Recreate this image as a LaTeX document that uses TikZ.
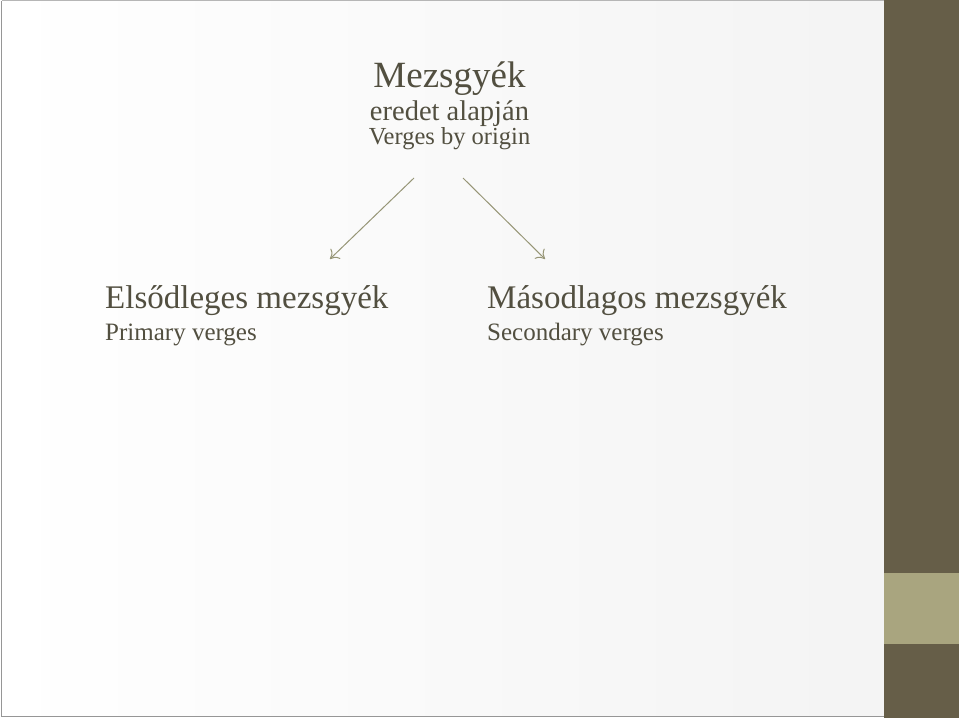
\documentclass[tikz,border=0pt]{standalone}
\usepackage{fontspec}
\setmainfont{Liberation Serif}
\usetikzlibrary{arrows.meta}
\definecolor{bandDark}{RGB}{102,94,72}
\definecolor{bandLight}{RGB}{169,165,127}
\definecolor{textOlive}{RGB}{82,79,64}
\definecolor{arrowOlive}{RGB}{150,149,118}
\definecolor{frameGray}{RGB}{150,150,150}
\tikzset{
  label/.style={text=textOlive, inner sep=0pt},
  headline/.style={label, anchor=base west, font=\fontsize{33}{36}\selectfont},
  subline/.style={label, anchor=base west, font=\fontsize{25}{28}\selectfont},
}
\begin{document}
\begin{tikzpicture}[x=1pt,y=-1pt]
  \useasboundingbox (0,0) rectangle (959,718);
  \fill[white] (0,0) rectangle (959,718);
  \shade[left color=white, right color=gray!9] (2,1) rectangle (884,716);
  \draw[frameGray, line width=1.2pt] (1.5,1) -- (1.5,716.5) -- (884,716.5);
  \draw[frameGray!70, line width=0.8pt] (1.5,0.6) -- (884,0.6);
  \fill[bandDark] (884,0) rectangle (959,718);
  \fill[bandLight] (884,573) rectangle (959,644);
  \draw
    (449.5,87) node[label, anchor=base, font=\fontsize{37}{40}\selectfont] (title){Mezsgyék}
    (449.5,120) node[label, anchor=base, font=\fontsize{28.5}{30}\selectfont] (origHu){eredet alapján}
    (449.5,144) node[label, anchor=base, font=\fontsize{24.5}{28}\selectfont] (origEn){Verges by origin}
    (105,308) node[headline] (primHu){Elsődleges mezsgyék}
    (105,340) node[subline] (primEn){Primary verges}
    (487,308) node[headline] (secHu){Másodlagos mezsgyék}
    (487,340) node[subline] (secEn){Secondary verges};
  \coordinate (srcL) at (414,178);
  \coordinate (tipL) at (330,259);
  \coordinate (srcR) at (463,178);
  \coordinate (tipR) at (545,259);
  \begin{scope}[arrowOlive, line width=1pt, -{To[length=8pt,width=14pt]}]
    \draw (srcL) to (tipL);
    \draw (srcR) to (tipR);
  \end{scope}
\end{tikzpicture}
\end{document}
